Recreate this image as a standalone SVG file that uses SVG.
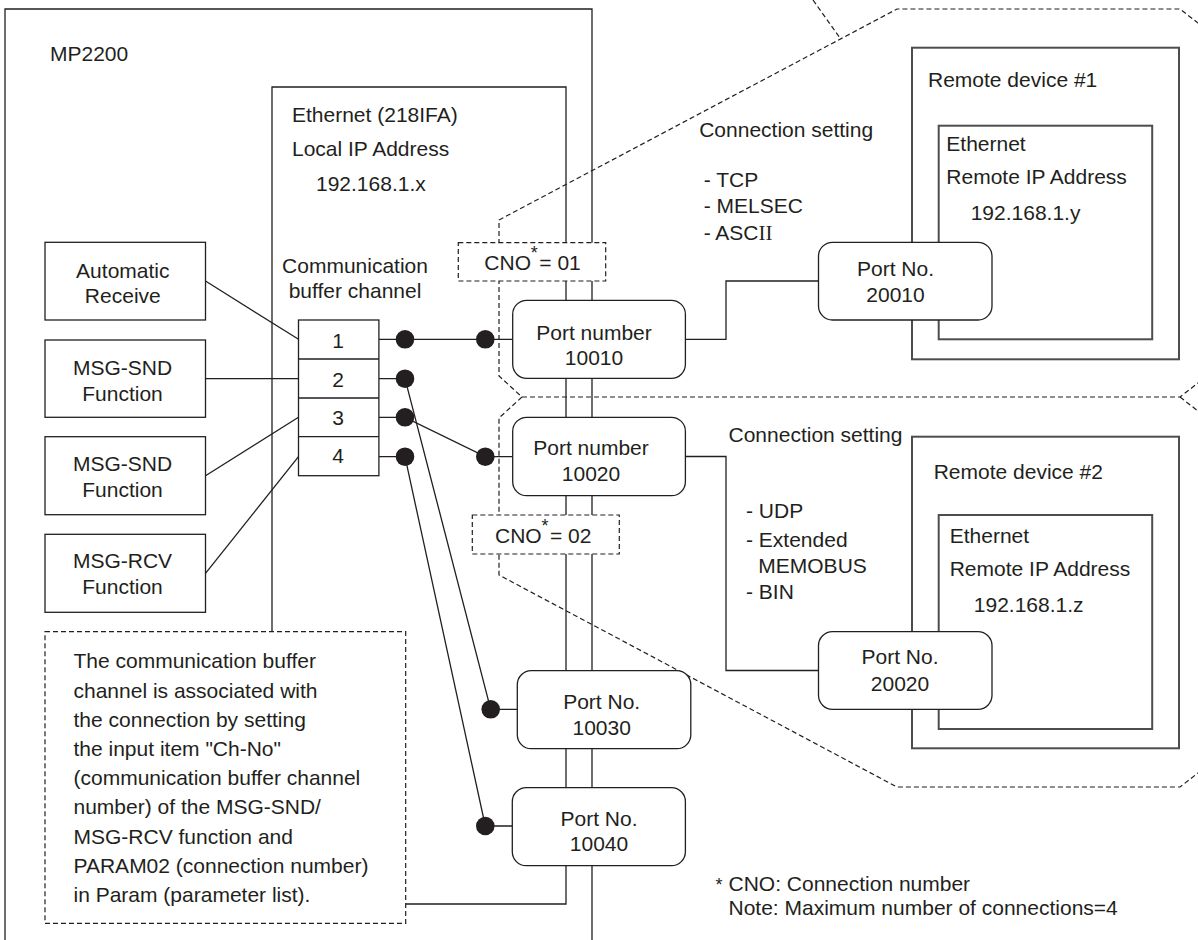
<svg xmlns="http://www.w3.org/2000/svg" width="1198" height="940" viewBox="0 0 1198 940">
  <style>
    .t { font-family: "Liberation Sans", Arial, Helvetica, sans-serif; font-size: 21px; fill: #231f20; }
    .m { text-anchor: middle; }
    .frame { fill: none; stroke: #231f20; stroke-width: 1.3; }
    .box { fill: #ffffff; stroke: #231f20; stroke-width: 1.3; }
    .dev { fill: #ffffff; stroke: #4d4d4d; stroke-width: 2; }
    .dash { fill: none; stroke: #231f20; stroke-width: 1.2; stroke-dasharray: 5 3; }
    .dashbox { fill: #ffffff; stroke: #231f20; stroke-width: 1.2; stroke-dasharray: 5 3; }
    .wire { fill: none; stroke: #231f20; stroke-width: 1.3; }
    .dot { fill: #231f20; }
  </style>

  <rect width="1198" height="940" fill="#ffffff"/>

  <!-- controller and Ethernet module outlines -->
  <g id="mp2200">
    <path class="frame" d="M5,945 V9 H592 V945"/>
    <text class="t" x="50" y="61">MP2200</text>
  </g>
  <g id="ethernet-module">
    <path class="frame" d="M272,632 V87 H566 V904 H406"/>
    <text class="t" x="292" y="121.7">Ethernet (218IFA)</text>
    <text class="t" x="292" y="156">Local IP Address</text>
    <text class="t" x="316" y="190.7">192.168.1.x</text>
    <text class="t m" x="355" y="273">Communication</text>
    <text class="t m" x="355" y="298">buffer channel</text>
  </g>

  <!-- connection scopes -->
  <g id="connection-scopes">
    <path class="dash" d="M813,0 L840,38"/>
    <path class="dash" d="M1230,48 L1180,9 L897,9 L499,220 L499,376 L522,397 L1180,397 L1230,358"/>
    <path class="dash" d="M1180,397 L1230,436 M522,397 L499,418 L499,575 L897,787 L1180,787 L1230,748"/>
  </g>

  <!-- remote devices -->
  <g id="remote-device-1">
    <rect class="dev" x="912" y="47.7" width="267" height="311.6"/>
    <rect class="dev" x="938.7" y="125.7" width="213.5" height="213.6"/>
    <text class="t" x="928" y="87.3">Remote device #1</text>
    <text class="t" x="946.3" y="150.7">Ethernet</text>
    <text class="t" x="946.3" y="184.3">Remote IP Address</text>
    <text class="t" x="970.7" y="220">192.168.1.y</text>
  </g>
  <g id="remote-device-2">
    <rect class="dev" x="912" y="436.7" width="267" height="311.6"/>
    <rect class="dev" x="938.7" y="515" width="213.5" height="214"/>
    <text class="t" x="933.7" y="479.3">Remote device #2</text>
    <text class="t" x="949.7" y="542.7">Ethernet</text>
    <text class="t" x="949.7" y="576">Remote IP Address</text>
    <text class="t" x="973.8" y="611.7">192.168.1.z</text>
  </g>

  <!-- connection settings -->
  <g id="setting-1">
    <text class="t" x="699.2" y="137.3">Connection setting</text>
    <text class="t" x="703.7" y="187.3">- TCP</text>
    <text class="t" x="703.7" y="213.3">- MELSEC</text>
    <text class="t" x="703.7" y="240">- ASC<tspan font-family="'Liberation Serif', 'Times New Roman', serif">II</tspan></text>
  </g>
  <g id="setting-2">
    <text class="t" x="728.5" y="441.7">Connection setting</text>
    <text class="t" x="746" y="518.3">- UDP</text>
    <text class="t" x="746" y="546.7">- Extended</text>
    <text class="t" x="758.3" y="572.7">MEMOBUS</text>
    <text class="t" x="746" y="599.3">- BIN</text>
  </g>

  <!-- connectors -->
  <g id="connectors">
    <path class="wire" d="M205.5,281 L298.5,339.3"/>
    <path class="wire" d="M205.5,378.7 H298.5"/>
    <path class="wire" d="M205.5,475.7 L298.5,417.3"/>
    <path class="wire" d="M205.5,573.3 L298.5,456.7"/>

    <path class="wire" d="M379,339.3 H512.7"/>
    <path class="wire" d="M379,378.7 H405 L490.7,709.3 H517.3"/>
    <path class="wire" d="M379,417.3 H405 L485.3,456.7 H512.7"/>
    <path class="wire" d="M379,456.7 H405 L485.3,826 H512.3"/>

    <path class="wire" d="M685.4,339.3 H726 V281 H818.5"/>
    <path class="wire" d="M685.4,456.5 H726 V670.5 H818.5"/>

    <circle class="dot" cx="405" cy="339.3" r="9.3"/>
    <circle class="dot" cx="405" cy="378.7" r="9.3"/>
    <circle class="dot" cx="405" cy="417.3" r="9.3"/>
    <circle class="dot" cx="405" cy="456.7" r="9.3"/>
    <circle class="dot" cx="485.3" cy="339.3" r="9.3"/>
    <circle class="dot" cx="485.3" cy="456.7" r="9.3"/>
    <circle class="dot" cx="490.7" cy="709.3" r="9.3"/>
    <circle class="dot" cx="485.3" cy="826" r="9.3"/>
  </g>

  <!-- function blocks -->
  <g id="auto-receive">
    <rect class="box" x="45" y="242.3" width="160.5" height="77.7"/>
    <text class="t m" x="122.8" y="278.3">Automatic</text>
    <text class="t m" x="122.8" y="303.3">Receive</text>
  </g>
  <g id="msg-snd-1">
    <rect class="box" x="45" y="340" width="160.5" height="77.3"/>
    <text class="t m" x="122.5" y="375">MSG-SND</text>
    <text class="t m" x="122.5" y="400.7">Function</text>
  </g>
  <g id="msg-snd-2">
    <rect class="box" x="45" y="436.7" width="160.5" height="78"/>
    <text class="t m" x="122.5" y="471">MSG-SND</text>
    <text class="t m" x="122.5" y="496.7">Function</text>
  </g>
  <g id="msg-rcv">
    <rect class="box" x="45" y="534.3" width="160.5" height="78"/>
    <text class="t m" x="122.5" y="568.3">MSG-RCV</text>
    <text class="t m" x="122.5" y="594">Function</text>
  </g>

  <!-- communication buffer channel table -->
  <g id="buffer-channels">
    <rect class="box" x="298.5" y="320" width="80.4" height="155.7"/>
    <path class="wire" d="M298.5,359 H378.9 M298.5,398 H378.9 M298.5,436.7 H378.9"/>
    <text class="t m" x="338" y="347.7">1</text>
    <text class="t m" x="338" y="386.7">2</text>
    <text class="t m" x="338" y="425">3</text>
    <text class="t m" x="338" y="463.3">4</text>
  </g>

  <!-- connection numbers -->
  <g id="cno-01">
    <rect class="dashbox" x="458.3" y="242.7" width="147.4" height="38.3"/>
    <text class="t" x="484.3" y="270">CNO<tspan x="530.8" dy="-11" font-size="18">*</tspan><tspan x="539.3" dy="11">= 01</tspan></text>
  </g>
  <g id="cno-02">
    <rect class="dashbox" x="472.3" y="515" width="147" height="39"/>
    <text class="t" x="495" y="542.7">CNO<tspan x="541.5" dy="-11" font-size="18">*</tspan><tspan x="550" dy="11">= 02</tspan></text>
  </g>

  <!-- local ports -->
  <g id="port-10010">
    <rect class="box" x="512.7" y="300.3" width="172.7" height="78" rx="14"/>
    <text class="t m" x="594" y="339.5">Port number</text>
    <text class="t m" x="594" y="365">10010</text>
  </g>
  <g id="port-10020">
    <rect class="box" x="512.7" y="417.3" width="172.7" height="78.4" rx="14"/>
    <text class="t m" x="591" y="455">Port number</text>
    <text class="t m" x="591" y="480.5">10020</text>
  </g>
  <g id="port-10030">
    <rect class="box" x="517.3" y="670.7" width="173.5" height="78" rx="14"/>
    <text class="t m" x="601.7" y="709.3">Port No.</text>
    <text class="t m" x="601.7" y="735">10030</text>
  </g>
  <g id="port-10040">
    <rect class="box" x="512.3" y="787.7" width="173.1" height="78" rx="14"/>
    <text class="t m" x="599" y="825.7">Port No.</text>
    <text class="t m" x="599" y="850.7">10040</text>
  </g>

  <!-- remote ports -->
  <g id="port-20010">
    <rect class="box" x="818.5" y="242.3" width="173.5" height="77.7" rx="14"/>
    <text class="t m" x="895.5" y="276">Port No.</text>
    <text class="t m" x="895.5" y="301.7">20010</text>
  </g>
  <g id="port-20020">
    <rect class="box" x="818.5" y="631.7" width="173.5" height="77.6" rx="14"/>
    <text class="t m" x="900" y="664.3">Port No.</text>
    <text class="t m" x="900" y="690.7">20020</text>
  </g>

  <!-- explanatory note -->
  <g id="note">
    <rect class="dashbox" x="45" y="631.7" width="360.7" height="291.6"/>
    <text class="t" x="73.5" y="668.3">The communication buffer</text>
    <text class="t" x="73.5" y="697.5">channel is associated with</text>
    <text class="t" x="73.5" y="726.7">the connection by setting</text>
    <text class="t" x="73.5" y="755.9">the input item "Ch-No"</text>
    <text class="t" x="73.5" y="785.1">(communication buffer channel</text>
    <text class="t" x="73.5" y="814.3">number) of the MSG-SND/</text>
    <text class="t" x="73.5" y="843.5">MSG-RCV function and</text>
    <text class="t" x="73.5" y="872.7">PARAM02 (connection number)</text>
    <text class="t" x="73.5" y="901.9">in Param (parameter list).</text>
  </g>

  <!-- footnote -->
  <g id="footnote">
    <text class="t" x="715.6" y="890.7"><tspan font-size="18">*</tspan><tspan x="728.5">CNO: Connection number</tspan></text>
    <text class="t" x="728.5" y="915">Note: Maximum number of connections=4</text>
  </g>
</svg>
